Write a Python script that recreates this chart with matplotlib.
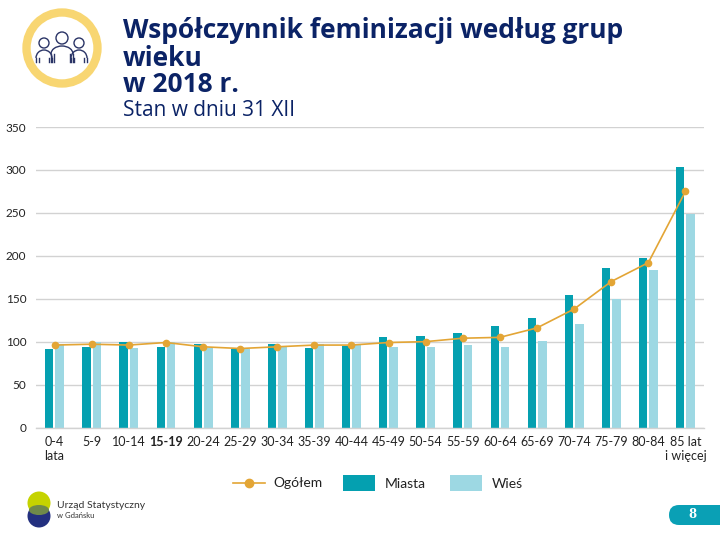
import numpy as np
import matplotlib
matplotlib.use("Agg")
import matplotlib.pyplot as plt
from matplotlib.patches import Circle, Rectangle, FancyBboxPatch, Arc, Ellipse
from matplotlib.transforms import ScaledTranslation

groups = ["0-4\nlata", "5-9", "10-14", "15-19", "20-24", "25-29", "30-34", "35-39", "40-44",
          "45-49", "50-54", "55-59", "60-64", "65-69", "70-74", "75-79", "80-84", "85 lat\ni więcej"]
miasta = [91, 94, 100, 94, 97, 92, 97, 93, 95, 105, 106, 110, 118, 128, 154, 186, 197, 303]
wies = [97, 100, 93, 100, 93, 91, 94, 97, 97, 94, 94, 96, 94, 101, 121, 150, 184, 249]
ogolem = [96, 97, 96, 99, 94, 92, 94, 96, 96, 99, 100, 104, 105, 116, 138, 170, 192, 275]
y_ticks = [0, 50, 100, 150, 200, 250, 300, 350]

teal = "#04a0b0"
light = "#9dd8e3"
orange = "#e3a535"
navy = "#0b2366"
grey = "#d2d2d2"
text_col = "#222222"
title_font = ["Open Sans", "DejaVu Sans"]

plt.rcParams["font.family"] = ["Lato", "DejaVu Sans"]

fig = plt.figure(figsize=(7.2, 5.4), dpi=100)

# overlay in pixel coordinates for the slide decoration
bg = fig.add_axes([0, 0, 1, 1], zorder=3)
bg.set_xlim(0, 720)
bg.set_ylim(540, 0)
bg.axis("off")
bg.patch.set_alpha(0)

ax = fig.add_axes([36 / 720, (540 - 427.5) / 540, 668 / 720, 300.5 / 540], zorder=2)
x = np.arange(len(groups))
ax.bar(x - 0.14, miasta, 0.22, color=teal, zorder=2)
ax.bar(x + 0.14, wies, 0.235, color=light, zorder=2)
ax.plot(x, ogolem, color=orange, lw=1.2, marker="o", ms=4.5, zorder=3)
ax.set_xlim(-0.5, 17.5)
ax.set_ylim(0, 350)
ax.set_yticks(y_ticks)
ax.set_xticks(x)
ax.set_xticklabels(groups, fontsize=9, color=text_col, linespacing=1.2)
ax.get_xticklabels()[3].set_fontweight("bold")
last = ax.get_xticklabels()[-1]
last.set_transform(last.get_transform() + ScaledTranslation(5 / 72, 0, fig.dpi_scale_trans))
ax.tick_params(axis="both", length=0, labelcolor=text_col)
ax.tick_params(axis="x", pad=6)
ax.tick_params(axis="y", pad=7, labelsize=8.5)
ax.grid(axis="y", color=grey, lw=1, zorder=0)
for s in ["top", "right", "left"]:
    ax.spines[s].set_visible(False)
ax.spines["bottom"].set_color(grey)
ax.spines["bottom"].set_linewidth(1)

# title
bg.text(123, 30, "Współczynnik feminizacji według grup", fontsize=19, fontweight="bold",
        family=title_font, color=navy, va="center")
bg.text(123, 58, "wieku", fontsize=19, fontweight="bold", family=title_font, color=navy, va="center")
bg.text(123, 85, "w 2018 r.", fontsize=19, fontweight="bold", family=title_font, color=navy, va="center")
bg.text(123, 111, "Stan w dniu 31 XII", fontsize=15, family=title_font, color=navy, va="center")

# icon top left
bg.add_patch(Circle((62, 48), 35.5, fc="white", ec="#f8d672", lw=6))
for cx, cy, r, bw in [(44, 43, 5, 8), (62, 38, 6, 11), (79, 43, 5, 8)]:
    bg.add_patch(Circle((cx, cy), r, fc="white", ec="#2a3466", lw=1))
    bg.add_patch(Arc((cx, cy + r + 10), bw * 2, 16, theta1=180, theta2=360, ec="#2a3466", lw=1))
    for dx in [-bw, -bw + 3, bw - 3, bw]:
        bg.plot([cx + dx, cx + dx], [cy + r + 10, 62], color="#2a3466", lw=1)

# legend
bg.plot([233, 265], [483, 483], color=orange, lw=1.2)
bg.plot([249], [483], color=orange, marker="o", ms=6)
bg.text(273, 483, "Ogółem", fontsize=10, color=text_col, va="center")
bg.add_patch(Rectangle((343, 475), 32, 16, fc=teal, ec="none"))
bg.text(385, 484, "Miasta", fontsize=10, color=text_col, va="center")
bg.add_patch(Rectangle((450, 475), 32, 16, fc=light, ec="none"))
bg.text(492, 484, "Wieś", fontsize=10, color=text_col, va="center")

# logo bottom left
bg.add_patch(Circle((39, 516), 11.5, fc="#23307f", ec="none"))
bg.add_patch(Circle((39, 503), 11.5, fc="#c5d300", ec="none"))
bg.add_patch(Ellipse((39, 510), 20, 10, fc="#6f8a4a", ec="none"))
bg.text(57, 505, "Urząd Statystyczny", fontsize=7.5, color="#333333", va="center")
bg.text(57, 516, "w Gdańsku", fontsize=5.5, color="#333333", va="center")

# page number
bg.add_patch(FancyBboxPatch((669, 505), 70, 20, boxstyle="round,pad=0,rounding_size=10",
                            fc="#0aa0b5", ec="none"))
bg.text(692, 515, "8", fontsize=8.5, fontweight="bold", color="white", ha="center", va="center",
        family=["DejaVu Serif"])

fig.savefig("out.png", dpi=100)
